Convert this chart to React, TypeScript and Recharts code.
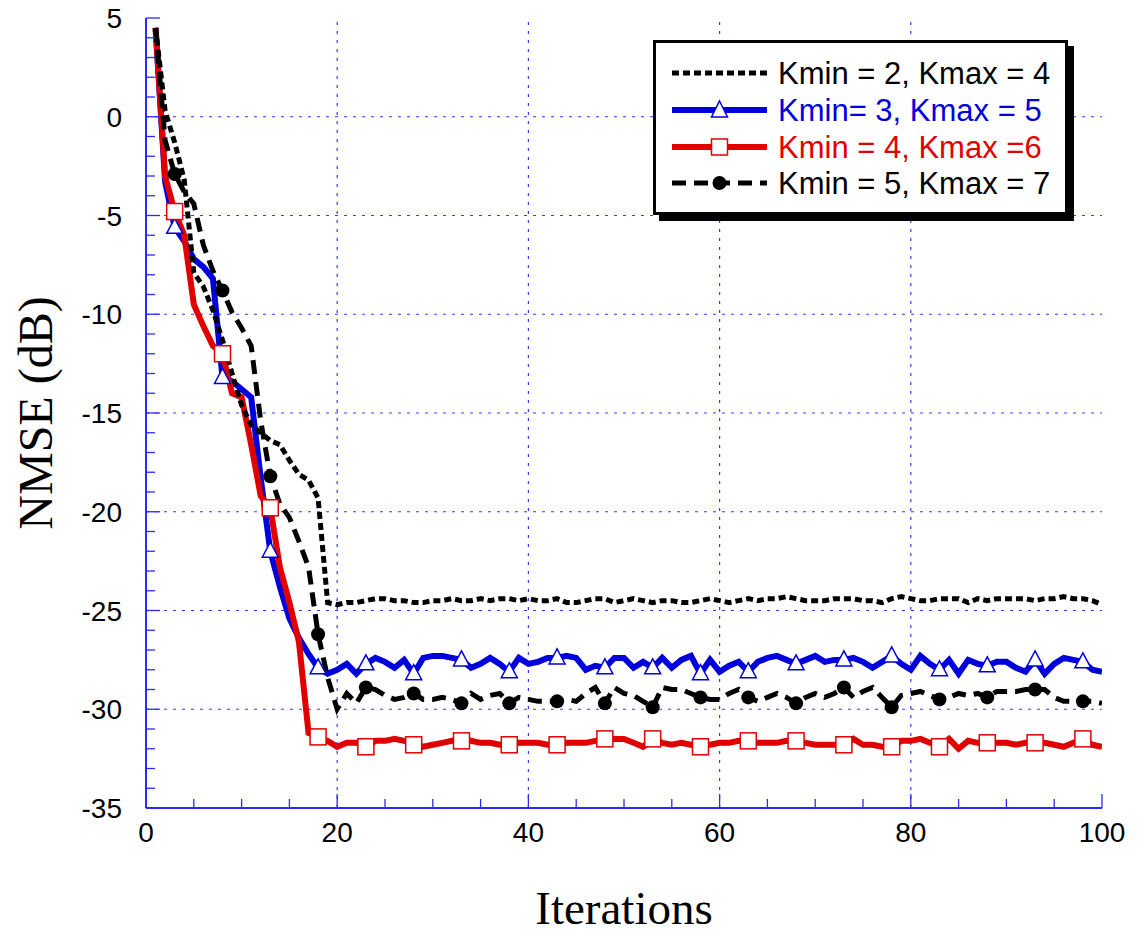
import React from 'react';
import { LineChart, Line, XAxis, YAxis, ReferenceLine, Legend, Label } from 'recharts';

// iteration index (x categories)
const iterations = Array.from({ length: 100 }, (_v, i) => i + 1);

// NMSE (dB) per iteration
const kmin2 = [
  4.5, 0.3, -1.3, -3.2, -7.9, -8.6, -9.8, -11.3, -13.0, -14.6,
  -15.6, -16.0, -16.4, -16.6, -17.4, -18.1, -18.4, -19.3, -24.6, -24.7,
  -24.6, -24.6, -24.5, -24.4, -24.4, -24.5, -24.5, -24.6, -24.6, -24.5,
  -24.5, -24.4, -24.5, -24.5, -24.4, -24.5, -24.4, -24.4, -24.5, -24.4,
  -24.5, -24.5, -24.4, -24.6, -24.6, -24.5, -24.4, -24.4, -24.6, -24.5,
  -24.4, -24.5, -24.6, -24.5, -24.5, -24.6, -24.6, -24.5, -24.4, -24.5,
  -24.6, -24.5, -24.4, -24.5, -24.4, -24.4, -24.3, -24.4, -24.5, -24.5,
  -24.5, -24.4, -24.4, -24.4, -24.5, -24.5, -24.6, -24.4, -24.3, -24.4,
  -24.5, -24.5, -24.4, -24.4, -24.4, -24.6, -24.4, -24.5, -24.4, -24.4,
  -24.4, -24.4, -24.5, -24.4, -24.4, -24.3, -24.4, -24.4, -24.5, -24.7,
];

const kmin3 = [
  4.5, -3.3, -5.6, -6.3, -7.2, -7.6, -8.2, -13.2, -13.4, -13.8,
  -14.2, -18.3, -22.0, -23.8, -25.4, -26.4, -27.2, -27.9, -28.2, -28.0,
  -27.7, -28.2, -27.7, -27.4, -27.6, -27.9, -27.5, -28.2, -27.4, -27.3,
  -27.3, -27.4, -27.5, -27.9, -27.7, -27.4, -27.7, -28.1, -27.4, -27.7,
  -27.6, -27.4, -27.4, -27.3, -27.4, -28.0, -27.8, -27.9, -27.4, -27.4,
  -27.9, -27.6, -27.9, -27.4, -27.9, -27.5, -27.3, -28.2, -27.5, -28.1,
  -27.8, -27.6, -28.1, -27.6, -27.4, -27.3, -27.5, -27.7, -27.5, -27.3,
  -27.6, -27.5, -27.5, -27.4, -27.6, -27.9, -27.6, -27.3, -27.7, -28.0,
  -27.3, -27.7, -28.0, -27.5, -28.2, -27.5, -27.7, -27.8, -27.6, -27.6,
  -27.9, -28.1, -27.5, -28.2, -27.7, -27.4, -27.5, -27.6, -28.0, -28.1,
];

const kmin4 = [
  4.5, -3.0, -4.8, -6.0, -9.5, -10.6, -11.6, -12.0, -14.0, -14.2,
  -16.6, -19.2, -19.8, -22.8, -24.6, -26.6, -31.2, -31.4, -31.6, -31.9,
  -31.7, -31.7, -31.9, -31.6, -31.6, -31.5, -31.6, -31.8, -31.9, -31.8,
  -31.7, -31.6, -31.6, -31.6, -31.7, -31.7, -31.8, -31.8, -31.7, -31.7,
  -31.7, -31.8, -31.8, -31.7, -31.7, -31.7, -31.6, -31.5, -31.5, -31.5,
  -31.7, -31.9, -31.5, -31.7, -31.8, -31.7, -31.8, -31.9, -31.8, -31.7,
  -31.7, -31.6, -31.6, -31.7, -31.7, -31.7, -31.6, -31.6, -31.7, -31.8,
  -31.8, -31.8, -31.8, -31.5, -31.8, -31.8, -31.9, -31.9, -31.6, -31.6,
  -31.5, -31.7, -31.9, -31.5, -32.0, -31.6, -31.7, -31.7, -31.7, -31.7,
  -31.8, -31.7, -31.7, -31.7, -31.8, -31.9, -31.7, -31.5, -31.8, -31.9,
];

const kmin5 = [
  4.5, -1.2, -2.9, -3.8, -4.4, -6.5, -7.8, -8.8, -9.9, -10.7,
  -11.6, -15.4, -18.2, -19.6, -20.3, -21.5, -22.8, -26.2, -28.4, -30.0,
  -29.2, -29.7, -28.9, -29.0, -29.3, -29.5, -29.4, -29.2, -29.5, -29.5,
  -29.4, -29.5, -29.7, -29.2, -29.5, -29.3, -29.2, -29.7, -29.4, -29.5,
  -29.6, -29.6, -29.6, -29.5, -29.6, -29.2, -28.9, -29.7, -28.9, -29.2,
  -29.3, -29.6, -29.9, -28.9, -29.0, -29.0, -29.2, -29.4, -29.5, -29.5,
  -29.2, -29.0, -29.4, -29.6, -29.4, -29.2, -29.4, -29.7, -29.4, -29.2,
  -29.4, -29.2, -28.9, -29.4, -29.1, -28.9, -29.4, -29.9, -29.3, -29.2,
  -29.1, -29.3, -29.5, -29.4, -29.2, -29.3, -29.2, -29.4, -29.1, -29.1,
  -29.1, -29.0, -29.0, -29.0, -29.4, -29.6, -29.6, -29.6, -29.6, -29.7,
];

const xTicks = [0, 5, 10, 15, 20, 25, 30, 35, 40, 45, 50, 55, 60, 65, 70, 75, 80, 85, 90, 95, 100];
const yTicks = [
  -35, -34, -33, -32, -31, -30, -29, -28, -27, -26, -25, -24, -23, -22, -21, -20,
  -19, -18, -17, -16, -15, -14, -13, -12, -11, -10, -9, -8, -7, -6, -5, -4, -3, -2, -1,
  0, 1, 2, 3, 4, 5,
];
const xGrid = [20, 40, 60, 80];
const yGrid = [0, -5, -10, -15, -20, -25, -30];

const legendLabels = ['Kmin = 2, Kmax = 4', 'Kmin= 3, Kmax = 5', 'Kmin = 4, Kmax =6', 'Kmin = 5, Kmax = 7'];

const data = iterations.map((it, i) => ({
  iter: it,
  k2: kmin2[i],
  k3: kmin3[i],
  k4: kmin4[i],
  k5: kmin5[i],
}));

const FRAME = '#2b2bff';
const GRID = '#3a3aff';
const BLUE = '#0000dd';
const RED = '#e00000';
const SANS = '"Liberation Sans", Arial, Helvetica, sans-serif';
const SERIF = '"Liberation Serif", "Times New Roman", Times, serif';

// markers every 5 iterations, starting at iteration 3
const showMarker = (index: number) => index % 5 === 2;

const TriangleDot = (props: any) => {
  const { cx, cy, index } = props;
  if (!showMarker(index) || cx == null || cy == null) return <g key={`t-${index}`} />;
  return (
    <path
      key={`t-${index}`}
      d={`M${cx},${cy - 9} L${cx + 8},${cy + 6} L${cx - 8},${cy + 6} Z`}
      fill="#fff"
      stroke={BLUE}
      strokeWidth={1.5}
    />
  );
};

const SquareDot = (props: any) => {
  const { cx, cy, index } = props;
  if (!showMarker(index) || cx == null || cy == null) return <g key={`s-${index}`} />;
  return <rect key={`s-${index}`} x={cx - 8} y={cy - 8} width={16} height={16} fill="#fff" stroke={RED} strokeWidth={1.5} />;
};

const CircleDot = (props: any) => {
  const { cx, cy, index } = props;
  if (!showMarker(index) || cx == null || cy == null) return <g key={`c-${index}`} />;
  return <circle key={`c-${index}`} cx={cx} cy={cy} r={7} fill="#000" />;
};

const BottomTick = (props: any) => {
  const { x, y, payload } = props;
  const major = payload.value % 20 === 0;
  return (
    <g>
      <line x1={x} y1={y} x2={x} y2={y - (major ? 14 : 9)} stroke={FRAME} strokeWidth={1.3} />
      {major && (
        <text x={x} y={y + 34} textAnchor="middle" fontSize={28} fontFamily={SANS} fill="#000">
          {payload.value}
        </text>
      )}
    </g>
  );
};

const TopTick = (props: any) => {
  const { x, y, payload } = props;
  const major = payload.value % 20 === 0;
  return <line x1={x} y1={y} x2={x} y2={y + (major ? 14 : 9)} stroke={FRAME} strokeWidth={1.3} />;
};

const LeftTick = (props: any) => {
  const { x, y, payload } = props;
  const major = payload.value % 5 === 0;
  return (
    <g>
      <line x1={x} y1={y} x2={x + (major ? 14 : 9)} y2={y} stroke={FRAME} strokeWidth={1.3} />
      {major && (
        <text x={x - 24} y={y + 10} textAnchor="end" fontSize={28} fontFamily={SANS} fill="#000">
          {payload.value}
        </text>
      )}
    </g>
  );
};

const RightTick = (props: any) => {
  const { x, y, payload } = props;
  const major = payload.value % 5 === 0;
  return <line x1={x} y1={y} x2={x - (major ? 14 : 9)} y2={y} stroke={FRAME} strokeWidth={1.3} />;
};

const renderLegend = () => {
  const rows = [30, 67, 104, 140];
  const x1 = 16;
  const x2 = 111;
  const mid = (x1 + x2) / 2;
  return (
    <div
      style={{
        boxSizing: 'border-box',
        width: 415,
        height: 175,
        border: '3px solid #000',
        background: '#fff',
        boxShadow: '6px 6px 0 #000',
      }}
    >
      <svg width={409} height={169} style={{ display: 'block' }}>
        <line x1={x1} y1={rows[0]} x2={x2} y2={rows[0]} stroke="#000" strokeWidth={5} strokeDasharray="7 4" />
        <line x1={x1} y1={rows[1]} x2={x2} y2={rows[1]} stroke={BLUE} strokeWidth={6} />
        <path d={`M${mid},${rows[1] - 9} L${mid + 8},${rows[1] + 7} L${mid - 8},${rows[1] + 7} Z`} fill="#fff" stroke={BLUE} strokeWidth={1.5} />
        <line x1={x1} y1={rows[2]} x2={x2} y2={rows[2]} stroke={RED} strokeWidth={6} />
        <rect x={mid - 8} y={rows[2] - 8} width={16} height={16} fill="#fff" stroke={RED} strokeWidth={1.5} />
        <line x1={x1} y1={rows[3]} x2={x2} y2={rows[3]} stroke="#000" strokeWidth={5} strokeDasharray="14 8" />
        <circle cx={mid} cy={rows[3]} r={7} fill="#000" />
        {legendLabels.map((t, i) => (
          <text
            key={t}
            x={122}
            y={rows[i] + 11}
            fontSize={31}
            fontFamily={SANS}
            fill={i === 1 ? BLUE : i === 2 ? RED : '#000'}
          >
            {t}
          </text>
        ))}
      </svg>
    </div>
  );
};

const App: React.FC = () => {
  return (
    <div style={{ position: 'absolute', left: 0, top: 0, background: '#fff' }}>
      <LineChart width={1139} height={937} data={data} margin={{ top: 18, right: 37, left: 0, bottom: 0 }}>
        <XAxis
          dataKey="iter"
          type="number"
          domain={[0, 100]}
          ticks={xTicks}
          interval={0}
          height={129}
          tickSize={0}
          tickMargin={0}
          tickLine={false}
          tick={BottomTick}
          axisLine={{ stroke: FRAME, strokeWidth: 2 }}
          allowDataOverflow
        >
          <Label
            content={(p: any) => {
              const vb = p.viewBox;
              return (
                <text x={vb.x + vb.width / 2} y={vb.y + 116} textAnchor="middle" fontSize={47} fontFamily={SERIF} fill="#000">
                  Iterations
                </text>
              );
            }}
          />
        </XAxis>
        <XAxis
          xAxisId="top"
          orientation="top"
          type="number"
          domain={[0, 100]}
          ticks={xTicks}
          interval={0}
          height={0}
          tickSize={0}
          tickMargin={0}
          tickLine={false}
          tick={TopTick}
          axisLine={{ stroke: FRAME, strokeWidth: 2 }}
          allowDataOverflow
        />
        <YAxis
          type="number"
          domain={[-35, 5]}
          ticks={yTicks}
          interval={0}
          width={146}
          tickSize={0}
          tickMargin={0}
          tickLine={false}
          tick={LeftTick}
          axisLine={{ stroke: FRAME, strokeWidth: 2 }}
          allowDataOverflow
        >
          <Label
            content={(p: any) => {
              const vb = p.viewBox;
              const cx = vb.x + 52;
              const cy = vb.y + vb.height / 2;
              return (
                <text x={cx} y={cy} transform={`rotate(-90, ${cx}, ${cy})`} textAnchor="middle" fontSize={48} fontFamily={SERIF} fill="#000">
                  NMSE (dB)
                </text>
              );
            }}
          />
        </YAxis>
        <YAxis
          yAxisId="right"
          orientation="right"
          type="number"
          domain={[-35, 5]}
          ticks={yTicks}
          interval={0}
          width={0}
          tickSize={0}
          tickMargin={0}
          tickLine={false}
          tick={RightTick}
          axisLine={{ stroke: FRAME, strokeWidth: 2 }}
          allowDataOverflow
        />

        {xGrid.map((v) => (
          <ReferenceLine key={`gx-${v}`} x={v} stroke={GRID} strokeWidth={1.2} strokeDasharray="3 6" />
        ))}
        {yGrid.map((v) => (
          <ReferenceLine key={`gy-${v}`} y={v} stroke={GRID} strokeWidth={1.2} strokeDasharray="3 6" />
        ))}

        <Line
          type="linear"
          dataKey="k3"
          name={legendLabels[1]}
          stroke={BLUE}
          strokeWidth={6}
          dot={TriangleDot}
          activeDot={false}
          isAnimationActive={false}
        />
        <Line
          type="linear"
          dataKey="k4"
          name={legendLabels[2]}
          stroke={RED}
          strokeWidth={6}
          dot={SquareDot}
          activeDot={false}
          isAnimationActive={false}
        />
        <Line
          type="linear"
          dataKey="k2"
          name={legendLabels[0]}
          stroke="#000"
          strokeWidth={5}
          strokeDasharray="7 4"
          dot={false}
          activeDot={false}
          isAnimationActive={false}
        />
        <Line
          type="linear"
          dataKey="k5"
          name={legendLabels[3]}
          stroke="#000"
          strokeWidth={5}
          strokeDasharray="14 8"
          dot={CircleDot}
          activeDot={false}
          isAnimationActive={false}
        />

        <Legend
          content={renderLegend}
          layout="horizontal"
          verticalAlign="middle"
          align="center"
          wrapperStyle={{ left: 653, top: 40, width: 415, height: 175 }}
        />
      </LineChart>
    </div>
  );
};

export default App;
